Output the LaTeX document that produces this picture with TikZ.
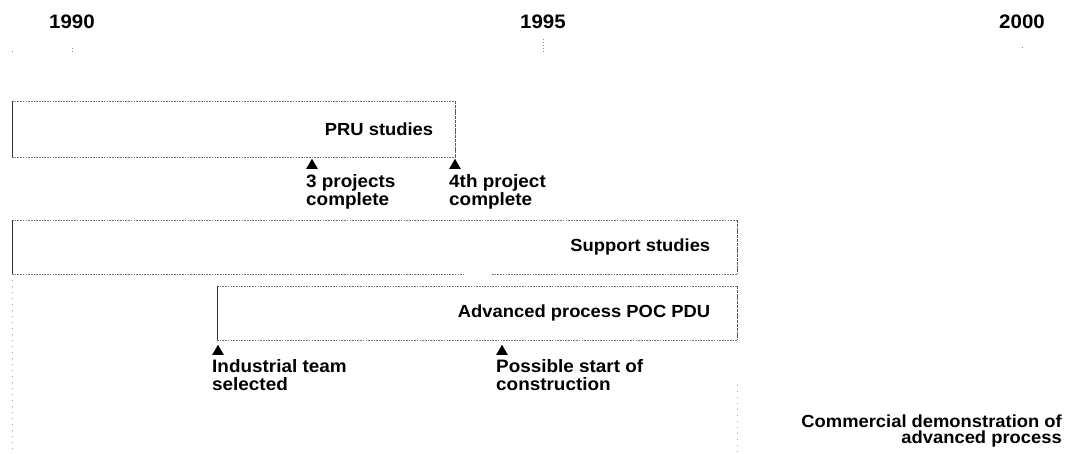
\documentclass[tikz,border=0pt]{standalone}
\usepackage{fontspec}
\setmainfont{Liberation Sans}[FakeStretch=1.05]
\usetikzlibrary{shapes.geometric,calc}

\tikzset{
  yearlbl/.style={font=\bfseries\fontsize{19.5}{22}\selectfont, inner sep=0pt},
  barlbl/.style={font=\bfseries\fontsize{17.5}{19}\selectfont, inner sep=0pt},
  mslbl/.style={font=\bfseries\fontsize{18}{18}\selectfont, inner sep=0pt, align=left},
  endlbl/.style={font=\bfseries\fontsize{17.5}{16}\selectfont, inner sep=0pt, align=right},
  barbox/.style={draw=none, inner sep=0pt, anchor=north west},
  faint/.style={draw=black!55, line width=0.5pt, dash pattern=on 1.6pt off 1.1pt},
  edgeL/.style={draw=black!80, line width=0.8pt},
  edgeR/.style={draw=black!65, line width=0.6pt, dash pattern=on 3pt off 0.8pt},
  gridln/.style={draw=black!35, line width=0.4pt, dash pattern=on 1pt off 5pt},
  tickmk/.style={draw=black!45, line width=0.4pt, dash pattern=on 1pt off 2pt},
  tri/.style={regular polygon, regular polygon sides=3, fill=black, draw=none,
              inner sep=0pt, minimum size=13.5pt}
}

\begin{document}
\begin{tikzpicture}[x=1pt, y=-1pt]
\useasboundingbox (0,0) rectangle (1072,453);

% year scale
\node[yearlbl, anchor=base] (y90) at (72,28) {1990};
\node[yearlbl, anchor=base] (y95) at (543,28) {1995};
\node[yearlbl, anchor=base] (y00) at (1022,28) {2000};
\draw[tickmk] (72,48) -- (72,52);
\draw[tickmk] (543,39) -- (543,53);
\draw[tickmk] (1022,47) -- (1022,49);
\draw[tickmk] (12,51) -- (12,53);

% bars
\node[barbox, minimum width=443pt, minimum height=56pt] (pru) at (12,101) {};
\node[barbox, minimum width=725pt, minimum height=54pt] (sup) at (12,220) {};
\node[barbox, minimum width=520pt, minimum height=54pt] (adv) at (217,286) {};

% PRU bar outline
\draw[faint] (pru.north west) -- (pru.north east);
\draw[faint] (pru.south west) -- (pru.south east);
\draw[edgeR] (pru.north east) -- (pru.south east);
\draw[edgeL] (pru.north west) -- (pru.south west);

% support bar outline (bottom edge broken)
\draw[faint] (sup.north west) -- (sup.north east);
\draw[faint] (sup.south west) -- ($(sup.south west)+(451,0)$);
\draw[faint] ($(sup.south west)+(480,0)$) -- (sup.south east);
\draw[edgeR] (sup.north east) -- (sup.south east);
\draw[edgeL] (sup.north west) -- (sup.south west);

% advanced bar outline
\draw[faint] (adv.north west) -- (adv.north east);
\draw[faint] (adv.south west) -- (adv.south east);
\draw[edgeR] (adv.north east) -- (adv.south east);
\draw[edgeL] (adv.north west) -- (adv.south west);

% bar labels
\node[barlbl, anchor=east] (prut) at ($(pru.east)+(-22,0)$) {PRU studies};
\node[barlbl, anchor=east] (supt) at ($(sup.east)+(-27,0)$) {Support studies};
\node[barlbl, anchor=east] (advt) at ($(adv.east)+(-27,0)$) {Advanced process POC PDU};

% guide lines below the bars
\coordinate (gl0) at (12,453);
\coordinate (gr0) at (737,385);
\coordinate (gr1) at (737,453);
\draw[gridln] (sup.south west) -- (gl0);
\draw[gridln] (gr0) -- (gr1);

% milestones
\node[tri] (m1) at (312,165.5) {};
\node[tri] (m2) at (455,165.5) {};
\node[tri] (m3) at (218,351.5) {};
\node[tri] (m4) at (502,351.5) {};

% milestone notes (anchored on the baseline of their last line)
\node[mslbl, anchor=base west] (m1t) at (306,205) {3 projects\\complete};
\node[mslbl, anchor=base west] (m2t) at (449,205) {4th project\\complete};
\node[mslbl, anchor=base west] (m3t) at (212,390) {Industrial team\\selected};
\node[mslbl, anchor=base west] (m4t) at (496,390) {Possible start of\\construction};

% final milestone
\node[endlbl, anchor=base east] (cd) at (1062,443)
  {Commercial demonstration of\\advanced process};
\end{tikzpicture}
\end{document}
